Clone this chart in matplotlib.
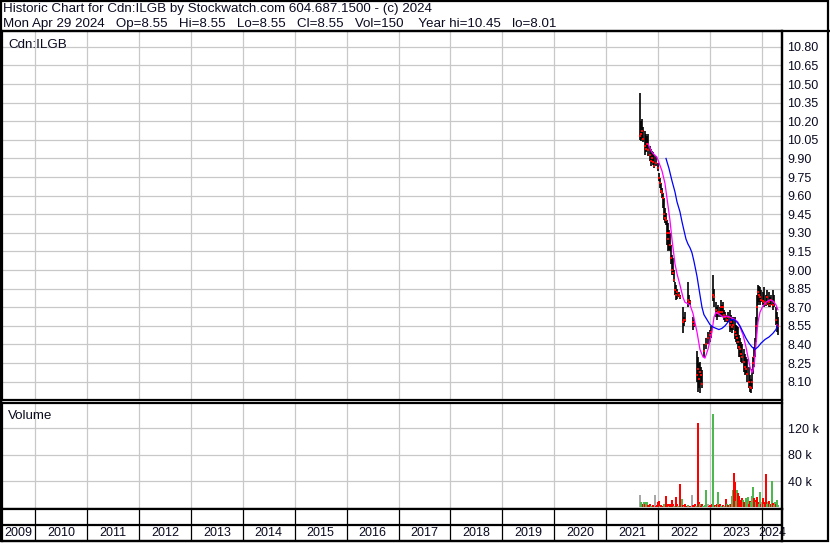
import matplotlib
matplotlib.use('Agg')
import matplotlib.pyplot as plt
from matplotlib.lines import Line2D
from matplotlib.patches import Rectangle

plt.rcParams['font.family'] = ['Liberation Sans', 'DejaVu Sans']

# ---- price bars (decimal year, high, low, close) ----
bar_t = [2021.650, 2021.669, 2021.689, 2021.708, 2021.746, 2021.766, 2021.785, 2021.804,
         2021.843, 2021.862, 2021.881, 2021.900, 2021.920, 2021.958, 2021.997, 2022.016,
         2022.035, 2022.054, 2022.074, 2022.093, 2022.112, 2022.131, 2022.151, 2022.170,
         2022.189, 2022.208, 2022.228, 2022.247, 2022.266, 2022.285, 2022.305, 2022.324,
         2022.343, 2022.363, 2022.401, 2022.420, 2022.478, 2022.497, 2022.517, 2022.574,
         2022.594, 2022.613, 2022.671, 2022.690, 2022.748, 2022.767, 2022.786, 2022.805,
         2022.825, 2022.844, 2022.882, 2022.921, 2022.959, 2022.998, 2023.017, 2023.056,
         2023.075, 2023.113, 2023.133, 2023.152, 2023.190, 2023.210, 2023.229, 2023.248,
         2023.267, 2023.287, 2023.325, 2023.344, 2023.383, 2023.402, 2023.421, 2023.441,
         2023.479, 2023.498, 2023.518, 2023.537, 2023.556, 2023.575, 2023.595, 2023.614,
         2023.652, 2023.672, 2023.691, 2023.710, 2023.749, 2023.768, 2023.787, 2023.806,
         2023.826, 2023.845, 2023.864, 2023.884, 2023.903, 2023.922, 2023.941, 2023.961,
         2023.980, 2024.018, 2024.038, 2024.076, 2024.095, 2024.134, 2024.153, 2024.172,
         2024.211, 2024.230, 2024.268, 2024.288, 2024.307]
bar_hi = [10.43, 10.20, 10.22, 10.15, 10.12, 10.10, 10.08, 10.10,
          10.00, 9.98, 9.96, 9.95, 9.93, 9.92, 9.86, 9.78,
          9.74, 9.70, 9.66, 9.62, 9.58, 9.50, 9.46, 9.40,
          9.38, 9.32, 9.30, 9.20, 9.12, 9.10, 9.00, 8.90,
          8.88, 8.85, 8.82, 8.80, 8.70, 8.62, 8.66, 8.90,
          8.80, 8.76, 8.62, 8.60, 8.35, 8.30, 8.25, 8.26,
          8.22, 8.19, 8.40, 8.45, 8.50, 8.52, 8.55, 8.96,
          8.85, 8.74, 8.70, 8.72, 8.70, 8.76, 8.72, 8.74,
          8.68, 8.66, 8.64, 8.66, 8.68, 8.64, 8.60, 8.62,
          8.62, 8.56, 8.55, 8.54, 8.48, 8.45, 8.42, 8.40,
          8.36, 8.32, 8.30, 8.28, 8.22, 8.15, 8.12, 8.20,
          8.30, 8.38, 8.45, 8.62, 8.80, 8.88, 8.87, 8.86,
          8.84, 8.82, 8.86, 8.80, 8.84, 8.82, 8.78, 8.80,
          8.84, 8.80, 8.70, 8.66, 8.62]
bar_lo = [10.05, 10.04, 10.06, 10.03, 9.93, 9.95, 9.96, 9.92,
          9.88, 9.84, 9.86, 9.85, 9.82, 9.84, 9.80, 9.72,
          9.66, 9.62, 9.58, 9.50, 9.40, 9.38, 9.36, 9.20,
          9.15, 9.16, 9.15, 9.05, 8.96, 8.96, 8.90, 8.80,
          8.76, 8.77, 8.78, 8.77, 8.49, 8.55, 8.58, 8.70,
          8.72, 8.72, 8.52, 8.54, 8.10, 8.02, 8.05, 8.01,
          8.10, 8.05, 8.30, 8.36, 8.40, 8.42, 8.45, 8.75,
          8.70, 8.62, 8.60, 8.62, 8.62, 8.64, 8.62, 8.64,
          8.60, 8.58, 8.58, 8.58, 8.50, 8.52, 8.49, 8.52,
          8.44, 8.42, 8.40, 8.36, 8.30, 8.30, 8.26, 8.25,
          8.18, 8.15, 8.16, 8.10, 8.05, 8.02, 8.01, 8.04,
          8.16, 8.22, 8.30, 8.42, 8.55, 8.72, 8.74, 8.72,
          8.74, 8.72, 8.70, 8.71, 8.72, 8.70, 8.70, 8.72,
          8.68, 8.70, 8.56, 8.50, 8.48]
bar_cl = [10.08, 10.10, 10.12, 10.06, 10.00, 9.98, 10.02, 9.97,
          9.93, 9.88, 9.90, 9.87, 9.84, 9.86, 9.82, 9.74,
          9.70, 9.64, 9.62, 9.58, 9.45, 9.42, 9.40, 9.30,
          9.25, 9.30, 9.20, 9.10, 9.00, 8.98, 8.92, 8.84,
          8.80, 8.82, 8.80, 8.78, 8.58, 8.60, 8.60, 8.76,
          8.74, 8.74, 8.58, 8.56, 8.15, 8.20, 8.12, 8.18,
          8.15, 8.08, 8.35, 8.40, 8.45, 8.48, 8.50, 8.80,
          8.78, 8.68, 8.65, 8.66, 8.66, 8.70, 8.66, 8.70,
          8.64, 8.62, 8.60, 8.62, 8.56, 8.58, 8.54, 8.56,
          8.50, 8.48, 8.45, 8.42, 8.38, 8.36, 8.32, 8.30,
          8.26, 8.22, 8.20, 8.16, 8.10, 8.06, 8.05, 8.10,
          8.25, 8.30, 8.36, 8.55, 8.70, 8.82, 8.80, 8.78,
          8.76, 8.75, 8.74, 8.73, 8.78, 8.74, 8.72, 8.76,
          8.72, 8.74, 8.60, 8.56, 8.55]

# ---- moving averages ----
ma_fast_t = [2021.804, 2021.881, 2021.977, 2022.074, 2022.131, 2022.170, 2022.228, 2022.266,
             2022.324, 2022.363, 2022.420, 2022.478, 2022.517, 2022.613, 2022.671, 2022.748,
             2022.805, 2022.863, 2022.902, 2022.959, 2023.036, 2023.075, 2023.113, 2023.190,
             2023.248, 2023.325, 2023.383, 2023.479, 2023.537, 2023.575, 2023.633, 2023.691,
             2023.729, 2023.768, 2023.806, 2023.845, 2023.884, 2023.922, 2023.961, 2024.018,
             2024.076, 2024.153, 2024.211, 2024.268, 2024.307]
ma_fast = [10.02, 9.95, 9.91, 9.80, 9.70, 9.58, 9.40, 9.25,
           9.05, 8.97, 8.88, 8.78, 8.74, 8.72, 8.65, 8.50,
           8.36, 8.30, 8.29, 8.36, 8.50, 8.62, 8.66, 8.64,
           8.62, 8.63, 8.62, 8.60, 8.58, 8.54, 8.48, 8.38,
           8.30, 8.22, 8.17, 8.22, 8.40, 8.58, 8.66, 8.71,
           8.74, 8.76, 8.75, 8.72, 8.68]
ma_slow_t = [2022.151, 2022.208, 2022.266, 2022.324, 2022.363, 2022.420, 2022.459, 2022.497,
             2022.536, 2022.574, 2022.613, 2022.651, 2022.690, 2022.748, 2022.805, 2022.844,
             2022.882, 2022.940, 2022.998, 2023.056, 2023.113, 2023.171, 2023.229, 2023.287,
             2023.344, 2023.402, 2023.460, 2023.518, 2023.575, 2023.633, 2023.691, 2023.749,
             2023.806, 2023.864, 2023.922, 2023.980, 2024.057, 2024.134, 2024.211, 2024.268,
             2024.307]
ma_slow = [9.90, 9.82, 9.72, 9.63, 9.55, 9.47, 9.39, 9.32,
           9.25, 9.21, 9.18, 9.14, 9.07, 8.95, 8.80, 8.70,
           8.64, 8.60, 8.56, 8.54, 8.53, 8.52, 8.53, 8.55,
           8.58, 8.60, 8.60, 8.58, 8.55, 8.50, 8.45, 8.41,
           8.38, 8.36, 8.38, 8.41, 8.44, 8.46, 8.49, 8.52,
           8.56]

# ---- volume (thousands of shares); r = down, g = up, n = unchanged ----
vol_t = [2021.650, 2021.669, 2021.708, 2021.727, 2021.746, 2021.766, 2021.785, 2021.804,
         2021.843, 2021.862, 2021.900, 2021.939, 2021.958, 2021.977, 2021.997, 2022.016,
         2022.035, 2022.054, 2022.093, 2022.112, 2022.151, 2022.170, 2022.189, 2022.208,
         2022.228, 2022.266, 2022.285, 2022.305, 2022.343, 2022.363, 2022.382, 2022.420,
         2022.459, 2022.478, 2022.497, 2022.517, 2022.555, 2022.574, 2022.613, 2022.651,
         2022.671, 2022.709, 2022.729, 2022.767, 2022.786, 2022.805, 2022.825, 2022.844,
         2022.863, 2022.902, 2022.921, 2022.959, 2022.978, 2022.998, 2023.036, 2023.056,
         2023.094, 2023.113, 2023.133, 2023.152, 2023.171, 2023.190, 2023.210, 2023.248,
         2023.267, 2023.306, 2023.325, 2023.344, 2023.383, 2023.402, 2023.421, 2023.441,
         2023.460, 2023.479, 2023.498, 2023.518, 2023.537, 2023.556, 2023.575, 2023.595,
         2023.614, 2023.633, 2023.652, 2023.672, 2023.691, 2023.710, 2023.729, 2023.749,
         2023.768, 2023.787, 2023.806, 2023.826, 2023.845, 2023.864, 2023.884, 2023.903,
         2023.922, 2023.941, 2023.961, 2023.980, 2023.999, 2024.018, 2024.038, 2024.057,
         2024.076, 2024.095, 2024.114, 2024.134, 2024.153, 2024.172, 2024.191, 2024.211,
         2024.230, 2024.249, 2024.268, 2024.288, 2024.307]
vol_k = [19, 8, 6, 9, 5, 9, 8, 4,
         6, 3, 4, 19, 3, 4, 9, 10,
         3, 4, 3, 5, 18, 4, 6, 3,
         5, 12, 6, 3, 16, 5, 3, 35,
         13, 4, 3, 5, 3, 4, 3, 19,
         4, 6, 3, 128, 8, 5, 3, 6,
         3, 4, 27, 6, 3, 4, 6, 142,
         4, 3, 6, 24, 4, 6, 3, 4,
         3, 13, 5, 4, 6, 5, 18, 27,
         53, 39, 10, 26, 22, 17, 12, 10,
         14, 12, 8, 9, 14, 15, 16, 6,
         10, 8, 18, 31, 14, 12, 9, 16,
         8, 6, 24, 5, 9, 14, 6, 8,
         50, 6, 9, 10, 5, 6, 40, 7,
         4, 9, 5, 11, 4]
vol_c = ['n', 'g', 'r', 'g', 'r', 'g', 'g', 'r',
         'r', 'g', 'r', 'n', 'r', 'r', 'r', 'r',
         'g', 'r', 'r', 'g', 'r', 'r', 'r', 'g',
         'r', 'r', 'r', 'g', 'r', 'r', 'g', 'r',
         'g', 'r', 'g', 'r', 'r', 'g', 'r', 'n',
         'r', 'r', 'g', 'r', 'r', 'g', 'r', 'r',
         'g', 'g', 'g', 'n', 'r', 'r', 'r', 'g',
         'r', 'g', 'r', 'g', 'r', 'r', 'g', 'r',
         'g', 'r', 'g', 'r', 'g', 'r', 'g', 'g',
         'r', 'r', 'g', 'g', 'r', 'r', 'r', 'r',
         'r', 'g', 'r', 'r', 'g', 'g', 'g', 'r',
         'r', 'g', 'g', 'g', 'r', 'r', 'g', 'r',
         'r', 'g', 'g', 'r', 'n', 'r', 'g', 'r',
         'r', 'g', 'g', 'r', 'g', 'r', 'g', 'r',
         'g', 'g', 'r', 'g', 'g']

year_lines = list(range(2010, 2025))
year_names = [str(y) for y in range(2009, 2025)]
price_ticks = ['8.10', '8.25', '8.40', '8.55', '8.70', '8.85', '9.00', '9.15', '9.30', '9.45',
               '9.60', '9.75', '9.90', '10.05', '10.20', '10.35', '10.50', '10.65', '10.80']
vol_ticks = [40, 80, 120]

title1 = 'Historic Chart for Cdn:ILGB by Stockwatch.com 604.687.1500 - (c) 2024'
title2 = 'Mon Apr 29 2024   Op=8.55   Hi=8.55   Lo=8.55   Cl=8.55   Vol=150    Year hi=10.45   lo=8.01'

# ---- layout (pixel based) ----
W, H = 830, 543
def fx(px):
    return px / W
def fy(py):
    return 1 - py / H

colmap = {'r': '#ff0000', 'g': '#4db84d', 'n': '#a8a8a8'}
txtc = '#0a0a20'
grid_c = '#c8c8c8'
x0, x1 = 2009.3645, 2024.385

fig = plt.figure(figsize=(W / 100, H / 100), dpi=100)
fig.patch.set_facecolor('white')

# price panel
ax = fig.add_axes([fx(2), fy(400), fx(782) - fx(2), fy(31) - fy(400)])
ax.set_xlim(x0, x1)
ax.set_ylim(7.952, 10.928)
pvals = [float(p) for p in price_ticks]
for p in pvals:
    ax.axhline(p, color=grid_c, lw=0.9, zorder=0)
for y in year_lines:
    ax.axvline(y, color=grid_c, lw=0.9, zorder=0)
ax.vlines(bar_t, bar_lo, bar_hi, color='black', lw=1.2, zorder=2)
ax.plot(bar_t, bar_cl, 's', color='#ff0000', ms=1.9, mew=0, zorder=3)
ax.plot(ma_fast_t, ma_fast, color='#ff00ff', lw=0.9, zorder=4)
ax.plot(ma_slow_t, ma_slow, color='#0000ff', lw=0.9, zorder=4)
ax.set_xticks([])
ax.yaxis.tick_right()
ax.set_yticks(pvals)
ax.set_yticklabels(price_ticks)
ax.tick_params(axis='y', length=0, pad=4, labelsize=9, labelcolor=txtc)
for s in ax.spines.values():
    s.set_linewidth(1.6)
ax.text(0.008, 0.977, 'Cdn:ILGB', transform=ax.transAxes, fontsize=9.6,
        color=txtc, va='top', ha='left')

# volume panel
axv = fig.add_axes([fx(2), fy(509), fx(782) - fx(2), fy(403) - fy(509)])
axv.set_xlim(x0, x1)
axv.set_ylim(-2.3, 158.3)
for v in vol_ticks:
    axv.axhline(v, color=grid_c, lw=0.9, zorder=0)
for y in year_lines:
    axv.axvline(y, color=grid_c, lw=0.9, zorder=0)
axv.bar(vol_t, vol_k, width=0.03, color=[colmap[c] for c in vol_c],
        linewidth=0, zorder=2)
axv.set_xticks([])
axv.yaxis.tick_right()
axv.set_yticks(vol_ticks)
axv.set_yticklabels(['%d k' % v for v in vol_ticks])
axv.tick_params(axis='y', length=0, pad=4, labelsize=9, labelcolor=txtc)
for s in axv.spines.values():
    s.set_linewidth(1.6)
axv.text(0.008, 0.93, 'Volume', transform=axv.transAxes, fontsize=9.6,
         color=txtc, va='top', ha='left')

# date strip + year labels
axd = fig.add_axes([fx(2), fy(541), fx(782) - fx(2), fy(509) - fy(541)])
axd.set_xlim(x0, x1)
axd.set_ylim(0, 2)
axd.vlines(year_lines, 0, 2, color='black', lw=0.9)
axd.axhline(1, color='black', lw=1.6)
axd.set_xticks([])
axd.set_yticks([])
for s in axd.spines.values():
    s.set_linewidth(1.6)
edges = [x0] + year_lines + [x1]
for i, name in enumerate(year_names):
    axd.text((edges[i] + edges[i + 1]) / 2, 0.5, name, ha='center', va='center',
             fontsize=9, color=txtc, clip_on=False)

# header text and outer frame
fig.text(fx(3), fy(9), title1, fontsize=9.6, color=txtc, va='center', ha='left')
fig.text(fx(3), fy(24), title2, fontsize=9.6, color=txtc, va='center', ha='left')
fig.add_artist(Line2D([0, 1], [fy(31), fy(31)], transform=fig.transFigure,
                      color='black', lw=1.6))
fig.add_artist(Line2D([fx(782), fx(782)], [fy(31), fy(541)], transform=fig.transFigure,
                      color='black', lw=1.6))
fig.add_artist(Rectangle((fx(0.8), fy(541)), fx(828) - fx(0.8), fy(0.8) - fy(541),
                         transform=fig.transFigure, fill=False, edgecolor='black', lw=1.6))

fig.savefig('out.png', dpi=100)
